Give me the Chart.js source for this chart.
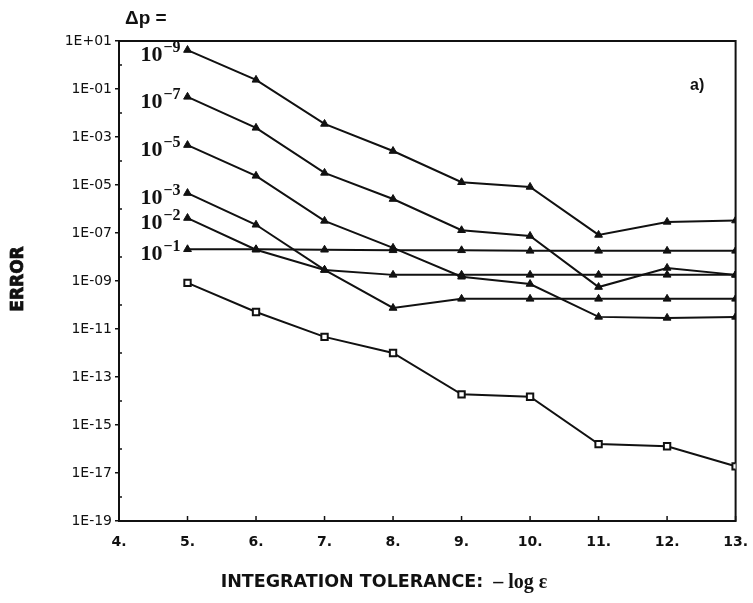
<!DOCTYPE html>
<html>
<head>
<meta charset="utf-8">
<script src="https://cdn.jsdelivr.net/npm/chart.js@4.4.0/dist/chart.umd.min.js"></script>
<style>
  html, body { margin: 0; padding: 0; background: #fff; }
  #wrap { width: 753px; height: 603px; }
</style>
</head>
<body>
<div id="wrap"><canvas id="errChart" width="753" height="603"></canvas></div>
<script>
// -log(eps) values
const tolerances = [5, 6, 7, 8, 9, 10, 11, 12, 13];

// error curves for each dp
const errDp9 = [4.2, 0.24, 3.5e-3, 2.6e-4, 1.3e-5, 8.3e-6, 8.3e-8, 2.9e-7, 3.3e-7];
const errDp7 = [0.047, 2.4e-3, 3.2e-5, 2.6e-6, 1.3e-7, 7.5e-8, 5.6e-10, 3.5e-9, 1.8e-9];
const errDp5 = [4.6e-4, 2.4e-5, 3.2e-7, 2.4e-8, 1.5e-9, 7.5e-10, 3.2e-11, 2.9e-11, 3.2e-11];
const errDp3 = [4.6e-6, 2.2e-7, 2.9e-9, 7.5e-11, 1.8e-10, 1.8e-10, 1.8e-10, 1.8e-10, 1.8e-10];
const errDp2 = [4.2e-7, 2.0e-8, 2.9e-9, 1.8e-9, 1.8e-9, 1.8e-9, 1.8e-9, 1.8e-9, 1.8e-9];
const errDp1 = [2.1e-8, 2.1e-8, 2.0e-8, 1.9e-8, 1.9e-8, 1.8e-8, 1.8e-8, 1.8e-8, 1.8e-8];
const errRef = [8.3e-10, 5.1e-11, 4.7e-12, 1.0e-12, 1.9e-14, 1.5e-14, 1.6e-16, 1.3e-16, 1.9e-17];

const dpExponents = ["-9", "-7", "-5", "-3", "-2", "-1"];
const yTickExponents = [1, -1, -3, -5, -7, -9, -11, -13, -15, -17, -19];
const yMinorExponents = [0, -2, -4, -6, -8, -10, -12, -14, -16, -18];
const xTickValues = [4, 5, 6, 7, 8, 9, 10, 11, 12, 13];

const toPoints = (arr) => arr.map((v, i) => ({ x: tolerances[i], y: v }));

const triSet = (label, arr) => ({
  label: label,
  data: toPoints(arr),
  borderColor: "#111",
  backgroundColor: "#111",
  borderWidth: 2,
  pointStyle: "triangle",
  pointRadius: 4.5,
  pointBorderWidth: 1,
  tension: 0,
});

const datasets = [
  triSet("1e-9", errDp9),
  triSet("1e-7", errDp7),
  triSet("1e-5", errDp5),
  triSet("1e-3", errDp3),
  triSet("1e-2", errDp2),
  triSet("1e-1", errDp1),
  {
    label: "ref",
    data: toPoints(errRef),
    borderColor: "#111",
    backgroundColor: "#fff",
    borderWidth: 2,
    pointStyle: "rect",
    pointRadius: 4.5,
    pointBorderWidth: 2,
    tension: 0,
  },
];

const expLabel = (e) => "1E" + (e >= 0 ? "+" : "-") + String(Math.abs(e)).padStart(2, "0");

// frame, inward ticks, series labels and titles
const decorPlugin = {
  id: "decor",
  beforeDatasetsDraw(chart) {
    const { ctx, chartArea: a } = chart;
    ctx.save();
    ctx.strokeStyle = "#111";
    ctx.lineWidth = 2;
    ctx.strokeRect(a.left, a.top, a.right - a.left, a.bottom - a.top);
    const xs = chart.scales.x;
    ctx.lineWidth = 1.5;
    xTickValues.forEach((v) => {
      const px = xs.getPixelForValue(v);
      ctx.beginPath();
      ctx.moveTo(px, a.bottom);
      ctx.lineTo(px, a.bottom - 5);
      ctx.stroke();
    });
    const ys = chart.scales.y;
    yMinorExponents.forEach((e) => {
      const py = ys.getPixelForValue(Math.pow(10, e));
      ctx.beginPath();
      ctx.moveTo(a.left, py);
      ctx.lineTo(a.left + 3, py);
      ctx.stroke();
    });
    ctx.restore();
  },
  afterDraw(chart) {
    const { ctx } = chart;
    ctx.save();
    ctx.fillStyle = "#111";

    // dp labels next to the first point of each curve
    dpExponents.forEach((exp, i) => {
      const pt = chart.getDatasetMeta(i).data[0];
      const sup = exp.replace("-", "\u2212");
      const right = pt.x - 7;
      ctx.font = "bold 16px 'Liberation Serif'";
      const ew = ctx.measureText(sup).width;
      ctx.font = "bold 22px 'Liberation Serif'";
      const bw = ctx.measureText("10").width;
      const base = pt.y + 11;
      ctx.textAlign = "left";
      ctx.textBaseline = "alphabetic";
      ctx.fillText("10", right - ew - bw - 1, base);
      ctx.font = "bold 16px 'Liberation Serif'";
      ctx.fillText(sup, right - ew, base - 9);
    });

    ctx.font = "bold 19px 'Liberation Sans'";
    ctx.textAlign = "left";
    ctx.textBaseline = "middle";
    ctx.fillText("\u0394p =", 125, 19);

    ctx.font = "bold 16px 'Liberation Sans'";
    ctx.fillText("a)", 690, 86);

    // y title
    ctx.save();
    ctx.translate(19, 279);
    ctx.rotate(-Math.PI / 2);
    ctx.textAlign = "center";
    ctx.font = "bold 17px 'DejaVu Sans'";
    ctx.lineWidth = 0.8;
    ctx.strokeStyle = "#111";
    ctx.fillText("ERROR", 0, 0);
    ctx.strokeText("ERROR", 0, 0);
    ctx.restore();

    // x title
    ctx.font = "bold 17.5px 'DejaVu Sans'";
    const t1 = "INTEGRATION TOLERANCE:";
    const w1 = ctx.measureText(t1).width;
    ctx.font = "bold 20px 'Liberation Serif'";
    const t2 = "  \u2013 log \u03b5";
    const w2 = ctx.measureText(t2).width;
    const startX = 384 - (w1 + w2) / 2;
    ctx.textAlign = "left";
    ctx.font = "bold 17.5px 'DejaVu Sans'";
    ctx.fillText(t1, startX, 582);
    ctx.font = "bold 20px 'Liberation Serif'";
    ctx.fillText(t2, startX + w1, 583);
    ctx.restore();
  },
};

const ctx = document.getElementById("errChart").getContext("2d");
const errChart = new Chart(ctx, {
  type: "line",
  data: { datasets: datasets },
  options: {
    responsive: false,
    animation: false,
    layout: { padding: { left: 0, right: 16, top: 41, bottom: 0 } },
    plugins: {
      legend: { display: false },
      tooltip: { enabled: false },
    },
    scales: {
      x: {
        type: "linear",
        min: 4,
        max: 13,
        afterBuildTicks: (axis) => {
          axis.ticks = xTickValues.map((v) => ({ value: v }));
        },
        afterFit: (axis) => {
          axis.height = 82;
        },
        ticks: {
          callback: (v) => v + ".",
          color: "#111",
          font: { family: "'DejaVu Sans'", size: 14, weight: "bold" },
          padding: 5,
          maxRotation: 0,
          autoSkip: false,
        },
        grid: { display: false },
        border: { display: false },
      },
      y: {
        type: "logarithmic",
        min: 1e-19,
        max: 1e1,
        afterBuildTicks: (axis) => {
          axis.ticks = yTickExponents.map((e) => ({ value: Math.pow(10, e) }));
        },
        afterFit: (axis) => {
          axis.width = 119;
        },
        ticks: {
          callback: (v) => expLabel(Math.round(Math.log10(v))),
          color: "#111",
          font: { family: "'DejaVu Sans'", size: 14 },
          padding: 3,
          autoSkip: false,
        },
        grid: {
          drawOnChartArea: false,
          drawTicks: true,
          tickLength: 4,
          color: "#111",
          lineWidth: 1.5,
        },
        border: { display: false },
      },
    },
  },
  plugins: [decorPlugin],
});
</script>
</body>
</html>
